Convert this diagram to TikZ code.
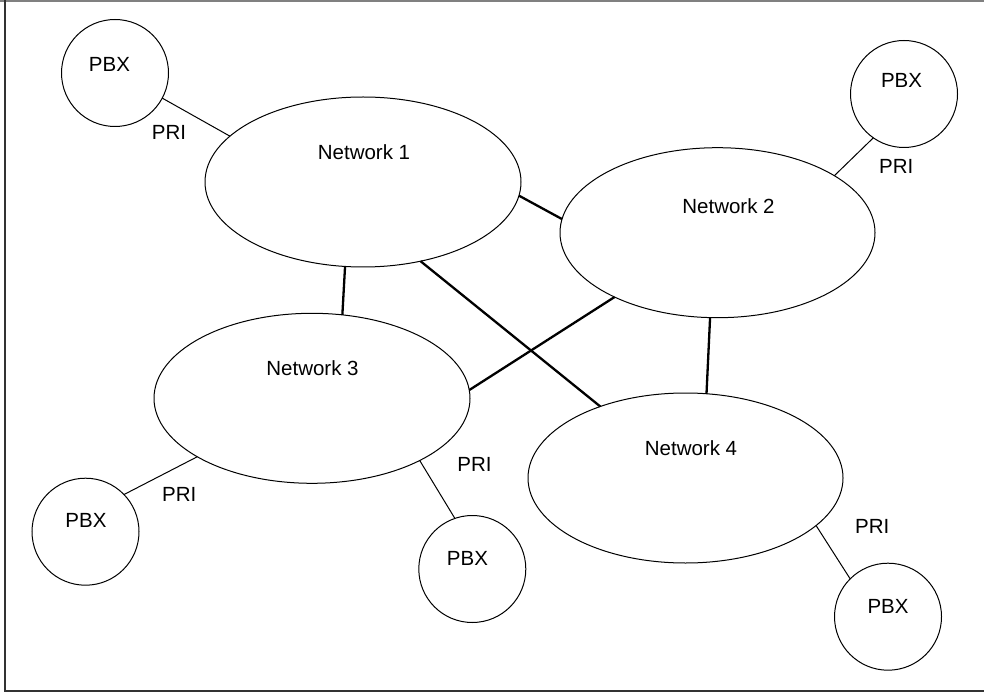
\documentclass[tikz,border=0pt]{standalone}
\usepackage{fontspec}
\setmainfont{Liberation Sans}
\usetikzlibrary{shapes.geometric}
\begin{document}
\begin{tikzpicture}[x=1pt,y=-1pt,
  network/.style={draw, ellipse, line width=1pt, inner sep=0pt, outer sep=0pt},
  pbx/.style={draw, circle, line width=1pt, minimum size=107pt, inner sep=0pt, outer sep=0pt},
  lbl/.style={anchor=base, inner sep=0pt, font=\fontsize{20.5}{24}\selectfont},
  trunk/.style={line width=2.3pt},
  pri/.style={line width=1pt}]
\useasboundingbox (0,0) rectangle (984,692);

% frame
\draw[line width=2pt, black!50] (0,1) -- (984,1);
\draw[line width=1.3pt, black!80] (5,0) -- (5,691) -- (984,691);

% carrier networks
\node[network, minimum width=316pt, minimum height=170pt] (n1) at (363,182) {};
\node[network, minimum width=315pt, minimum height=170pt] (n2) at (717.5,232.7) {};
\node[network, minimum width=316pt, minimum height=170pt] (n3) at (312,398.3) {};
\node[network, minimum width=315pt, minimum height=170pt] (n4) at (685.5,478) {};

\node[lbl] (n1t) at (364,159.3) {Network 1};
\node[lbl] (n2t) at (728.5,213.3) {Network 2};
\node[lbl] (n3t) at (312.5,375) {Network 3};
\node[lbl] (n4t) at (691,455) {Network 4};

% private branch exchanges
\node[pbx] (p1) at (115,73) {};
\node[pbx] (p2) at (904,94) {};
\node[pbx] (p3) at (85.5,531.7) {};
\node[pbx] (p4) at (472.3,569) {};
\node[pbx] (p5) at (888,616.7) {};

\node[lbl] (p1t) at (109.5,71.7) {PBX};
\node[lbl] (p2t) at (901.5,87.3) {PBX};
\node[lbl] (p3t) at (86,527.3) {PBX};
\node[lbl] (p4t) at (467.5,565) {PBX};
\node[lbl] (p5t) at (888,613.3) {PBX};

% inter-network trunks
\draw[trunk] (n1.-5.4) -- (n2.175.3);
\draw[trunk] (n1.-102.6) -- (n3.70.2);
\draw[trunk] (n1.-54.1) -- (n4.140.5);
\draw[trunk] (n2.-148.8) -- (n3.3.3);
\draw[trunk] (n2.-95) -- (n4.76.3);

% PRI access links
\draw[pri] (p1.-28.8) -- (n1.161.4);
\draw[pri] (p2.-125.7) -- (n2.26.2);
\draw[pri] (p3.44.9) -- (n3.-153.1);
\draw[pri] (p4.109.8) -- (n3.-30.4);
\draw[pri] (p5.135.2) -- (n4.-20.1);

\node[lbl] (r1) at (169,140) {PRI};
\node[lbl] (r2) at (896.3,173.3) {PRI};
\node[lbl] (r3) at (179.2,501) {PRI};
\node[lbl] (r4) at (474.5,471.7) {PRI};
\node[lbl] (r5) at (872.2,533.3) {PRI};
\end{tikzpicture}
\end{document}
